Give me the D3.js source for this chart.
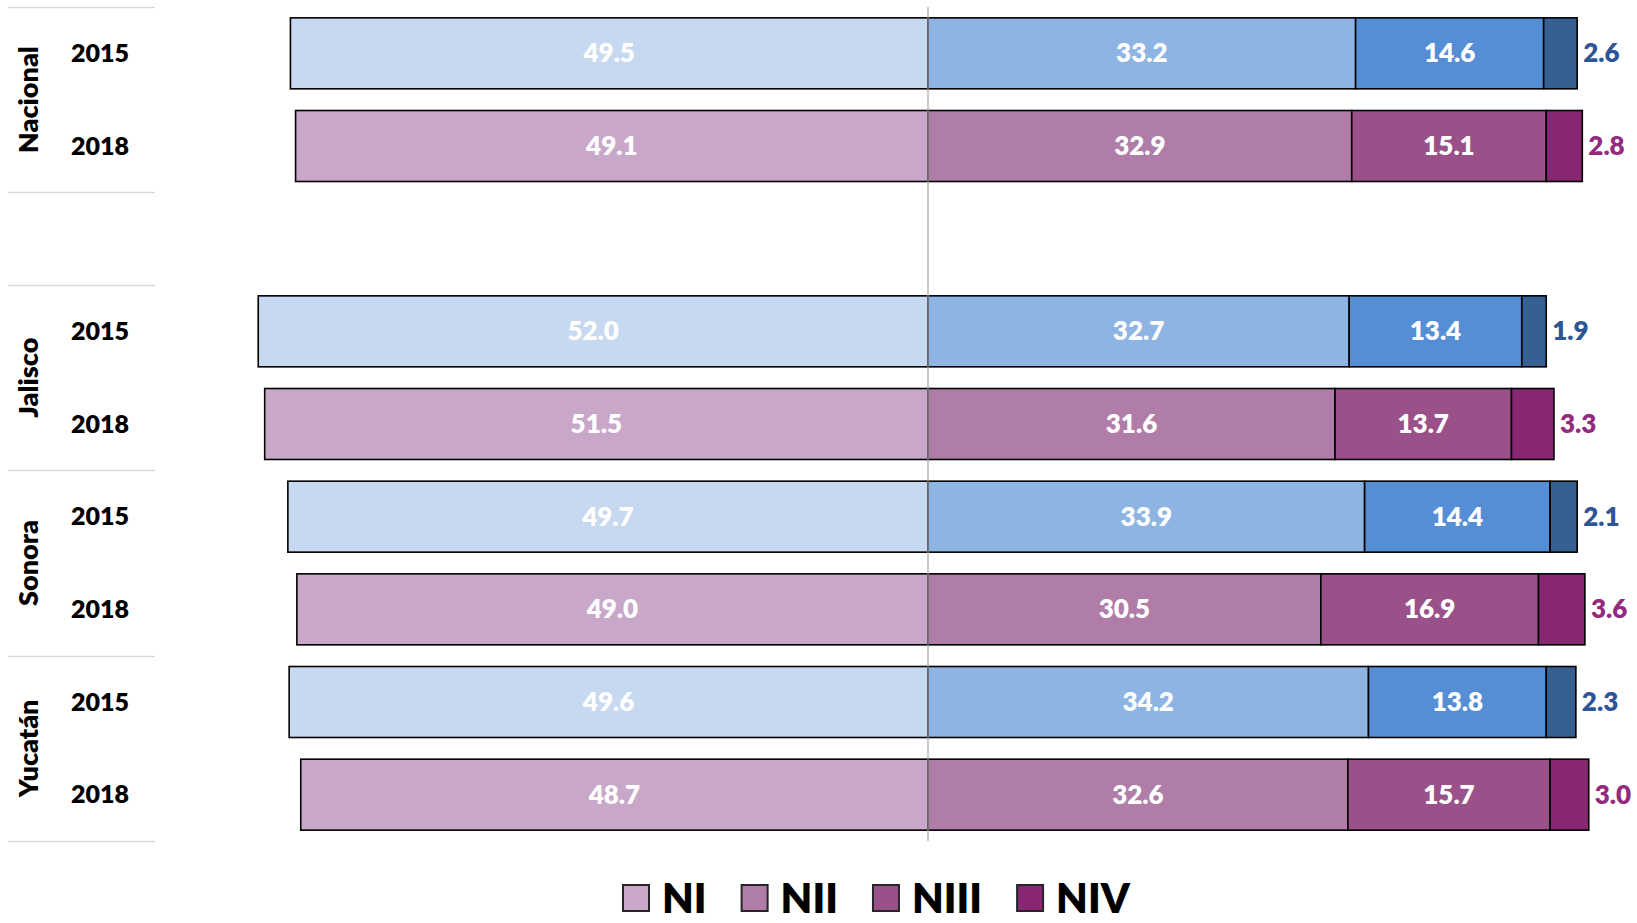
<!DOCTYPE html>
<html>
<head>
<meta charset="utf-8">
<script src="https://cdn.jsdelivr.net/npm/d3@7"></script>
<style>
  html, body { margin: 0; padding: 0; background: #fff; }
  svg { display: block; font-family: Lato, "Open Sans", "Noto Sans", sans-serif; }
</style>
</head>
<body>
<svg id="chart" width="1637" height="923"></svg>
<script>
// ---- data ----
const regions = ["Nacional", "Jalisco", "Sonora", "Yucatán"];
const years = ["2015", "2018"];
const levels = ["NI", "NII", "NIII", "NIV"];
// order: Nacional 2015, Nacional 2018, Jalisco 2015, Jalisco 2018, Sonora 2015, Sonora 2018, Yucatán 2015, Yucatán 2018
const NI   = [49.5, 49.1, 52.0, 51.5, 49.7, 49.0, 49.6, 48.7];
const NII  = [33.2, 32.9, 32.7, 31.6, 33.9, 30.5, 34.2, 32.6];
const NIII = [14.6, 15.1, 13.4, 13.7, 14.4, 16.9, 13.8, 15.7];
const NIV  = [2.6, 2.8, 1.9, 3.3, 2.1, 3.6, 2.3, 3.0];

const colors2015 = ["#C6D9F1", "#8EB4E3", "#558ED5", "#376092"];
const colors2018 = ["#C9A7C9", "#B07CA8", "#9A5189", "#872673"];
const labelColor = { "2015": "#2F5597", "2018": "#922B7E" };

// ---- build rows ----
const rows = [];
regions.forEach((r, ri) => {
  years.forEach((y, yi) => {
    const i = ri * 2 + yi;
    rows.push({ key: r + "|" + y, region: r, year: y, vals: [NI[i], NII[i], NIII[i], NIV[i]] });
  });
});
// y band domain (a blank slot after Nacional)
const bandKeys = [rows[0].key, rows[1].key, "gap"].concat(rows.slice(2).map(d => d.key));

const svg = d3.select("#chart");
const W = 800;

const x = d3.scaleLinear().domain([-60, 55]).range([928 - 60 * 12.88, 928 + 55 * 12.88]);
const y = d3.scaleBand().domain(bandKeys).range([7, 841]).paddingInner(0.234).paddingOuter(0.117);
const step = y.step();

// ---- group separators ----
const groups = [
  { name: "Nacional", keys: [rows[0].key, rows[1].key] },
  { name: "", keys: ["gap"] },
  { name: "Jalisco", keys: [rows[2].key, rows[3].key] },
  { name: "Sonora", keys: [rows[4].key, rows[5].key] },
  { name: "Yucatán", keys: [rows[6].key, rows[7].key] }
];
const sepY = new Set();
groups.forEach(g => {
  const top = y(g.keys[0]) - y.paddingInner() * step / 2;
  const bot = y(g.keys[g.keys.length - 1]) + y.bandwidth() + y.paddingInner() * step / 2;
  sepY.add(Math.round(top)); sepY.add(Math.round(bot));
  g.top = top; g.bot = bot;
});
svg.append("g").selectAll("line").data([...sepY]).join("line")
  .attr("x1", 8).attr("x2", 155)
  .attr("y1", d => d + 0.5).attr("y2", d => d + 0.5)
  .attr("stroke", "#D9D9D9").attr("stroke-width", 1.5);

// group labels
svg.append("g").selectAll("text").data(groups.filter(g => g.name)).join("text")
  .attr("transform", g => `translate(38,${(g.top + g.bot) / 2}) rotate(-90)`)
  .attr("text-anchor", "middle")
  .attr("font-size", 27).attr("font-weight", W).attr("fill", "#000")
  .text(g => g.name);

// year labels
svg.append("g").selectAll("text").data(rows).join("text")
  .attr("x", 100).attr("y", d => y(d.key) + y.bandwidth() / 2)
  .attr("dy", "0.35em").attr("text-anchor", "middle")
  .attr("font-size", 25).attr("font-weight", W).attr("fill", "#000")
  .text(d => d.year);

// ---- segments ----
rows.forEach(d => {
  const segs = [];
  segs.push({ x0: -d.vals[0], x1: 0, v: d.vals[0], li: 0 });
  let acc = 0;
  for (let k = 1; k < 4; k++) {
    segs.push({ x0: acc, x1: acc + d.vals[k], v: d.vals[k], li: k });
    acc += d.vals[k];
  }
  d.segs = segs;
});

const rowG = svg.append("g").selectAll("g").data(rows).join("g")
  .attr("transform", d => `translate(0,${y(d.key)})`);

rowG.selectAll("rect").data(d => d.segs.map(s => Object.assign({ year: d.year }, s))).join("rect")
  .attr("x", s => x(s.x0)).attr("width", s => x(s.x1) - x(s.x0))
  .attr("y", 0).attr("height", y.bandwidth())
  .attr("fill", s => (s.year === "2015" ? colors2015 : colors2018)[s.li])
  .attr("stroke", "#000").attr("stroke-width", 1.6);

// inner labels
rowG.selectAll("text.in").data(d => d.segs.filter(s => s.li < 3)).join("text")
  .attr("class", "in")
  .attr("x", s => (x(s.x0) + x(s.x1)) / 2)
  .attr("y", y.bandwidth() / 2).attr("dy", "0.35em")
  .attr("text-anchor", "middle")
  .attr("font-size", 26).attr("font-weight", W).attr("fill", "#fff")
  .text(s => s.v.toFixed(1));

// outer NIV labels
rowG.append("text")
  .attr("x", d => x(d.segs[3].x1) + 6)
  .attr("y", y.bandwidth() / 2).attr("dy", "0.35em")
  .attr("font-size", 26).attr("font-weight", W)
  .attr("fill", d => labelColor[d.year])
  .text(d => d.vals[3].toFixed(1));

// center axis line
svg.append("line")
  .attr("x1", x(0)).attr("x2", x(0))
  .attr("y1", 7).attr("y2", 841)
  .attr("stroke", "#A6A6A6").attr("stroke-opacity", 0.6).attr("stroke-width", 2);

// ---- legend ----
const leg = svg.append("g").attr("transform", "translate(623,898)");
let lx = 0;
levels.forEach((lv, i) => {
  leg.append("rect").attr("x", lx).attr("y", -13).attr("width", 26).attr("height", 26)
    .attr("fill", colors2018[i]).attr("stroke", "#262626").attr("stroke-width", 2);
  const t = leg.append("text").attr("x", lx + 39).attr("y", 0).attr("dy", "0.36em")
    .attr("font-size", 41).attr("font-weight", W).attr("fill", "#000").text(lv);
  lx += 39 + t.node().getComputedTextLength() + 35;
});
</script>
</body>
</html>
